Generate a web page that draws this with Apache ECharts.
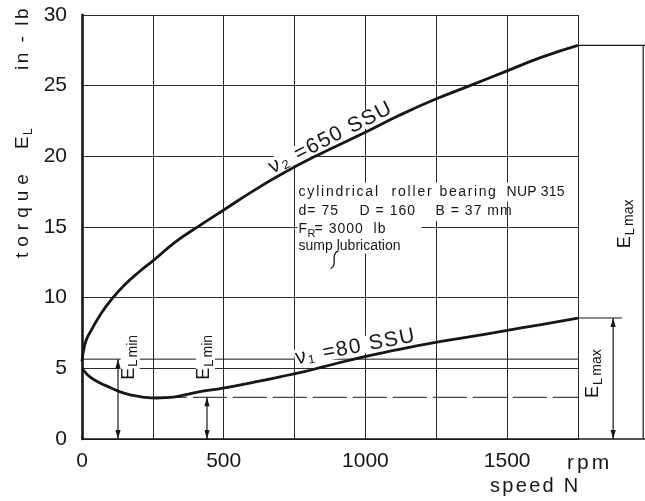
<!DOCTYPE html>
<html>
<head>
<meta charset="utf-8">
<script src="https://cdn.jsdelivr.net/npm/echarts@6.0.0/dist/echarts.min.js"></script>
<style>
html,body{margin:0;padding:0;background:#fff;}
#chart{width:645px;height:501px;}
</style>
</head>
<body>
<div id="chart"></div>
<script>
// ---- values ----
const xTickLabels = [0, 500, 1000, 1500];
const yTickLabels = [0, 5, 10, 15, 20, 25, 30];
const speedMax = 1750;
const speedStep = 250;
const torqueMax = 30;
const torqueStep = 5;
// nu2 = 650 SSU
const speed650 = [0, 4, 15, 33, 68, 109, 150, 200, 250, 330, 415, 500, 600, 700, 833, 1000, 1120, 1242, 1369, 1500, 1620, 1750];
const torque650 = [5.5, 6.1, 7.0, 7.7, 8.9, 10.0, 10.9, 11.8, 12.6, 13.95, 15.1, 16.2, 17.5, 18.7, 20.1, 21.7, 22.9, 24.0, 25.0, 26.05, 27.0, 27.85];
// nu1 = 80 SSU
const speed80 = [0, 10, 28, 60, 99, 140, 180, 220, 263, 300, 334, 416, 498, 616, 699, 780, 850, 990, 1110, 1238, 1360, 1490, 1620, 1750];
const torque80 = [5.0, 4.75, 4.4, 4.0, 3.65, 3.3, 3.08, 2.95, 2.9, 2.93, 3.0, 3.35, 3.6, 4.06, 4.4, 4.75, 5.1, 5.8, 6.3, 6.8, 7.2, 7.65, 8.1, 8.56];
// annotation levels / positions (data units)
const refLevelHigh = 5.65;
const refLevelLow = 2.95;
const refLowFrom = 250;
const eLminSpeeds = [127, 441];
const eLminTops = [5.65, 2.95];
const eLminLabelSpeeds = [172, 434];
const eLmaxSpeeds = [1874, 1980];
const eLmaxTops = [8.56, 27.85];
const eLmaxExtEnds = [1905, 1990];
const curveLabelText = ['ν₂ =650 SSU', 'ν₁ =80 SSU'];
const curveLabelSpeed = [875, 963];
const curveLabelTorque = [21.3, 6.5];
const curveLabelAngle = [27, 11];

const INK = '#161616';
const FF = "'Liberation Sans', Arial, sans-serif";

const chart = echarts.init(document.getElementById('chart'), null, {width: 645, height: 501});
chart.setOption({
  animation: false,
  backgroundColor: '#ffffff',
  grid: {left: 82, top: 15, right: 67, bottom: 62, containLabel: false, outerBoundsMode: 'none'},
  xAxis: {
    type: 'value', min: 0, max: speedMax, interval: speedStep,
    axisLine: {show: true, onZero: false, lineStyle: {color: INK, width: 1.6}},
    axisTick: {show: false},
    axisLabel: {formatter: v => xTickLabels.includes(v) ? String(v) : '', fontSize: 21, fontFamily: FF, color: INK, margin: 12},
    splitLine: {show: true, lineStyle: {color: '#2b2b2b', width: 1}}
  },
  yAxis: {
    type: 'value', min: 0, max: torqueMax, interval: torqueStep,
    axisLine: {show: true, onZero: false, lineStyle: {color: INK, width: 2.6}},
    axisTick: {show: false},
    axisLabel: {formatter: v => yTickLabels.includes(v) ? String(v) : '', fontSize: 21, fontFamily: FF, color: INK, margin: 15},
    splitLine: {show: true, lineStyle: {color: '#2b2b2b', width: 1}}
  },
  series: [
    {type: 'line', name: '650 SSU', data: speed650.map((n, i) => [n, torque650[i]]), smooth: 0.5,
     showSymbol: false, lineStyle: {color: INK, width: 2.8}, z: 2},
    {type: 'line', name: '80 SSU', data: speed80.map((n, i) => [n, torque80[i]]), smooth: 0.5,
     showSymbol: false, lineStyle: {color: INK, width: 2.8}, z: 2}
  ]
});

const P = (n, e) => chart.convertToPixel({gridIndex: 0}, [n, e]);
const G = [];
const mctx = document.createElement('canvas').getContext('2d');
function tw(str, size) { mctx.font = size + 'px ' + FF; return mctx.measureText(str).width; }
function txt(str, x, y, size, extra) {
  return Object.assign({type: 'text', x: x, y: y, silent: true,
    style: Object.assign({text: str, fontSize: size, fontFamily: FF, fill: INK, align: 'left', verticalAlign: 'middle'}, (extra && extra.style) || {})},
    extra && extra.z !== undefined ? {z: extra.z} : {z: 1});
}
function spaced(str, size, gap, x0, y0, z) {
  const kids = []; let x = x0;
  for (const ch of Array.from(str)) {
    kids.push(txt(ch, x, y0, size, {z: z === undefined ? 1 : z}));
    x += tw(ch, size) + gap;
  }
  return {kids: kids, width: x - gap - x0};
}
function line(x1, y1, x2, y2, w, dash, z) {
  G.push({type: 'line', silent: true, z: z === undefined ? 3 : z, shape: {x1: x1, y1: y1, x2: x2, y2: y2},
    style: {stroke: INK, lineWidth: w || 1, lineDash: dash || null}});
}
function head(x, y, dir) { // dir=+1 points down, -1 points up
  G.push({type: 'polygon', silent: true, z: 3, shape: {points: [[x, y], [x - 2.6, y - dir * 9], [x + 2.6, y - dir * 9]]}, style: {fill: INK}});
}

const [xL, y0] = P(0, 0);
const [xR, yTop] = P(speedMax, torqueMax);

// reference level lines
{
  const a = P(0, refLevelHigh), b = P(speedMax, refLevelHigh);
  line(a[0], a[1], b[0], b[1], 1, null, 0.5);
  const c = P(refLowFrom, refLevelLow), d = P(speedMax, refLevelLow);
  line(c[0], c[1], d[0], d[1], 1, [34, 6], 0.5);
}
// E_Lmin dimension arrows
eLminSpeeds.forEach((n, i) => {
  const t = P(n, eLminTops[i]), b = P(n, 0);
  line(t[0], t[1], b[0], b[1], 1.2);
  head(t[0], t[1], -1); head(b[0], b[1], 1);
});
// right side: extensions and E_Lmax arrows
line(xR, y0, 645, y0, 1.4, null, 3);
eLmaxSpeeds.forEach((n, i) => {
  const t = P(n, eLmaxTops[i]), b = P(n, 0), s = P(speedMax, eLmaxTops[i]), e = P(eLmaxExtEnds[i], eLmaxTops[i]);
  line(s[0], s[1], e[0], e[1], 1.2);
  line(t[0], t[1], b[0], b[1], 1.2);
  if (i === 0) { head(t[0], t[1], -1); head(b[0], b[1], 1); }
});

// E_L labels (rotated)
function eLabel(x, y, sub, sE, sS) {
  const wE = tw('E', sE), wL = tw('L', sS - 1), wSub = tw(sub, sS);
  const total = wE + 1 + wL + 2 + wSub;
  G.push({type: 'group', x: x, y: y, rotation: Math.PI / 2, z: 4, children: [
    {type: 'rect', silent: true, z: 4, shape: {x: -2, y: -sE * 0.45, width: total + 4, height: sE * 0.45 + 11}, style: {fill: '#fff'}},
    txt('E', 0, 0, sE, {z: 4}),
    txt('L', wE + 1, 5, sS - 1, {z: 4}),
    txt(sub, wE + 1 + wL + 2, 4, sS, {z: 4})
  ]});
}
eLminLabelSpeeds.forEach((n, i) => {
  const p = P(n, 4.2);
  eLabel(p[0] + (i === 0 ? -2 : -1), p[1], 'min', 18, 14);
});
{
  const p1 = P(eLmaxSpeeds[0], 2.9);
  eLabel(p1[0] - 20, p1[1], 'max', 18, 14);
  const p2 = P(eLmaxSpeeds[1], 13.5);
  eLabel(p2[0] - 18, p2[1], 'max', 18, 14);
}

// curve labels
curveLabelText.forEach((s, i) => {
  const p = P(curveLabelSpeed[i], curveLabelTorque[i]);
  const sp = spaced(s, 21, 1.4, 0, 0, 1);
  sp.kids.forEach(k => { k.x -= sp.width / 2; });
  const kids = [{type: 'rect', silent: true, z: 1, shape: {x: -sp.width / 2 - 1, y: -9, width: sp.width + 2, height: 17}, style: {fill: '#fff'}}].concat(sp.kids);
  G.push({type: 'group', x: p[0], y: p[1], rotation: curveLabelAngle[i] * Math.PI / 180, z: 1, children: kids});
});

// text block
{
  const a = P(750, 17.5);
  const bx = a[0] + 4, by = a[1];
  const bg = {fill: '#fff'};
  const rows = [0, 19, 37, 54];
  // masks (contiguous)
  G.push({type: 'rect', silent: true, z: 1, shape: {x: bx - 1, y: by - 9, width: 264, height: 19}, style: bg});
  G.push({type: 'rect', silent: true, z: 1, shape: {x: bx - 1, y: by + 10, width: 188, height: 19}, style: bg});
  G.push({type: 'rect', silent: true, z: 1, shape: {x: bx - 1, y: by + 29, width: 124, height: 17}, style: bg});
  G.push({type: 'rect', silent: true, z: 1, shape: {x: bx - 1, y: by + 46, width: 104, height: 16}, style: bg});
  const r1 = [['cylindrical', 0, 1.8], ['roller', 93, 1.8], ['bearing', 141, 1.6], ['NUP 315', 208, 0.2]];
  r1.forEach(w => spaced(w[0], 14, w[2], bx + w[1], by + rows[0], 2).kids.forEach(k => G.push(k)));
  const r2 = [['d= 75', 0], ['D = 160', 61], ['B = 37 mm', 137]];
  r2.forEach(w => spaced(w[0], 14, 1, bx + w[1], by + rows[1], 2).kids.forEach(k => G.push(k)));
  G.push(txt('F', bx, by + rows[2], 14, {z: 2}));
  G.push(txt('R', bx + 9, by + rows[2] + 5, 11, {z: 2}));
  spaced('= 3000  lb', 14, 1, bx + 16, by + rows[2], 2).kids.forEach(k => G.push(k));
  spaced('sump lubrication', 14, 0, bx, by + rows[3], 2).kids.forEach(k => G.push(k));
  // small leader squiggle
  G.push({type: 'bezierCurve', silent: true, z: 3, shape: {x1: bx + 40, y1: by + rows[3] + 5, cpx1: bx + 31, cpy1: by + rows[3] + 9, cpx2: bx + 40, cpy2: by + rows[3] + 19, x2: bx + 32, y2: by + rows[3] + 23}, style: {stroke: INK, lineWidth: 1.3, fill: null}});
}

// axis titles
{
  const kids = [];
  spaced('torque', 19, 6, 0, 0, 1).kids.forEach(k => kids.push(k));
  kids.push(txt('E', 109, 0, 19));
  kids.push(txt('L', 123, 6, 12));
  spaced('in - lb', 19, 2.5, 188, 0, 1).kids.forEach(k => kids.push(k));
  G.push({type: 'group', x: 23, y: 258, rotation: Math.PI / 2, children: kids});
}
{
  const r = spaced('rpm', 21, 3, xR - 11, y0 + 24, 1);
  r.kids.forEach(k => G.push(k));
  const s = spaced('speed N', 20, 2.3, xR - 88, y0 + 47, 1);
  s.kids.forEach(k => G.push(k));
}

chart.setOption({graphic: {elements: G}});
</script>
</body>
</html>
